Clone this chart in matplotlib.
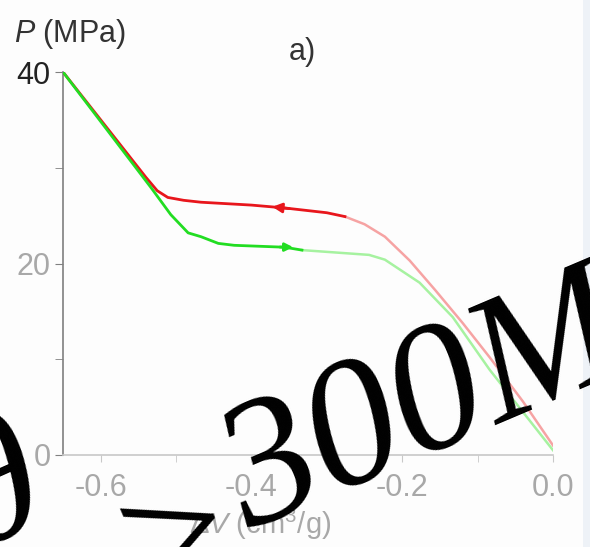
import numpy as np
import matplotlib.pyplot as plt
from matplotlib.patches import Rectangle

# loading branch (red, arrow to the left) and unloading branch (green, arrow to the right)
red_dv = [-0.65, -0.54, -0.525, -0.511, -0.49, -0.467, -0.40, -0.356, -0.30, -0.276,
          -0.25, -0.223, -0.19, -0.156, -0.12, -0.084, -0.04, 0.0]
red_p = [40.0, 29.0, 27.6, 26.9, 26.6, 26.4, 26.1, 25.8, 25.3, 24.9,
         24.1, 22.8, 20.3, 17.2, 13.8, 10.2, 5.6, 1.0]
red_split = 9  # points after this index are drawn faded

green_dv = [-0.65, -0.533, -0.507, -0.484, -0.467, -0.444, -0.423, -0.356, -0.333,
            -0.244, -0.223, -0.177, -0.133, -0.084, 0.0]
green_p = [40.0, 27.9, 25.1, 23.2, 22.8, 22.1, 21.9, 21.7, 21.4,
           20.9, 20.4, 18.0, 14.4, 8.9, 0.5]
green_split = 8

xticks = [-0.6, -0.4, -0.2, 0.0]
xtick_labels = ['-0.6', '-0.4', '-0.2', '0.0']
yticks = [0, 20, 40]

plt.rcParams['font.family'] = ['Liberation Sans', 'DejaVu Sans']
plt.rcParams['mathtext.fontset'] = 'custom'
plt.rcParams['mathtext.rm'] = 'Liberation Sans'
plt.rcParams['mathtext.it'] = 'Liberation Sans:italic'

fig = plt.figure(figsize=(5.9, 5.47), dpi=100)
fig.patch.set_facecolor('#fdfdfd')
fig.patches.append(Rectangle((583 / 590, 0), 7 / 590, 1, transform=fig.transFigure,
                             facecolor='#eef2f7', edgecolor='none', zorder=0))

ax = fig.add_axes([63 / 590, 1 - 455 / 547, 490 / 590, 383 / 547])
ax.set_facecolor('none')

# faded parts
ax.plot(red_dv[red_split:], red_p[red_split:], color='#f6a3a3', lw=1.8, zorder=2)
ax.plot(green_dv[green_split:], green_p[green_split:], color='#a6f2a0', lw=1.8, zorder=2)
# bright parts
ax.plot(red_dv[:red_split + 1], red_p[:red_split + 1], color='#e8161c', lw=2.0, zorder=3)
ax.plot(green_dv[:green_split + 1], green_p[:green_split + 1], color='#22dd22', lw=2.0, zorder=4)

ax.annotate('', xy=(red_dv[7] - 0.02, 25.95), xytext=(red_dv[7] + 0.01, 25.7),
            arrowprops=dict(arrowstyle='-|>', color='#e8161c', lw=2, mutation_scale=14))
ax.annotate('', xy=(green_dv[7] + 0.015, 21.7), xytext=(green_dv[7] - 0.01, 21.72),
            arrowprops=dict(arrowstyle='-|>', color='#22dd22', lw=2, mutation_scale=12))

ax.set_xlim(-0.65, 0.0)
ax.set_ylim(0, 40)
ax.set_xticks(xticks)
ax.set_xticklabels(xtick_labels)
ax.set_xticks([-0.5, -0.3, -0.1], minor=True)
ax.set_yticks(yticks)
ax.set_yticks([10, 30], minor=True)

for s in ['top', 'right']:
    ax.spines[s].set_visible(False)
ax.spines['left'].set_color('#808080')
ax.spines['bottom'].set_color('#c8c8c8')
ax.spines['left'].set_linewidth(1.2)
ax.spines['bottom'].set_linewidth(1.2)

ax.tick_params(axis='x', which='both', direction='out', length=5, color='#c8c8c8',
               labelsize=22, labelcolor='#a8a8a8', pad=8)
ax.tick_params(axis='y', which='both', direction='out', length=6, color='#808080',
               labelsize=22, labelcolor='#a8a8a8', pad=3)
ax.get_yticklabels()[-1].set_color('#222222')

fig.text(14 / 590, 1 - 42 / 547, '$P$ (MPa)', fontsize=22, color='#333333', ha='left', va='baseline')
fig.text(302 / 590, 1 - 52 / 547, 'a)', fontsize=22, color='#333333', ha='center', va='center')
fig.text(260 / 590, 1 - 524 / 547, r'$\Delta V$ (cm$^3$/g)', fontsize=21, color='#a8a8a8',
         ha='center', va='center')

# overlaid annotation: θ > 300MPa
big = dict(fontsize=130, family='Liberation Serif', style='italic', rotation_mode='anchor',
           color='black')
fig.text(-4 / 590, 1 - 490 / 547, 'θ', rotation=24, ha='center', va='center', **big)
fig.text(140 / 590, 1 - 604 / 547, '>', rotation=23, ha='left', va='baseline', **big)
fig.text(248 / 590, 1 - 530 / 547, '300MPa', rotation=23, ha='left', va='baseline', **big)

fig.savefig('out.png', dpi=100, facecolor=fig.get_facecolor())
